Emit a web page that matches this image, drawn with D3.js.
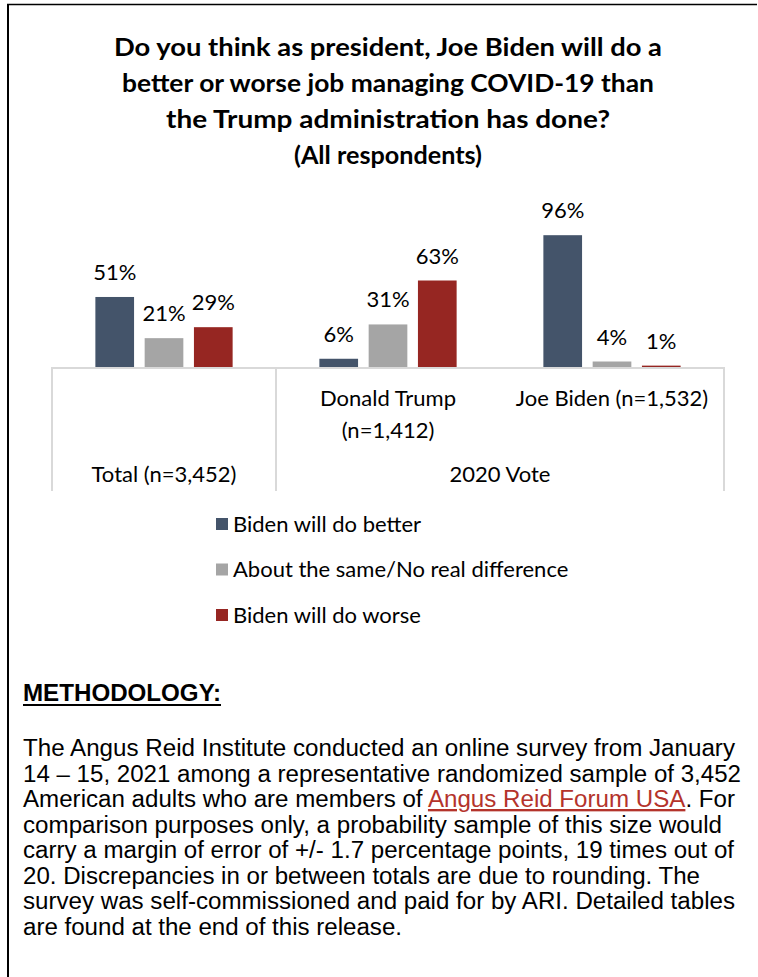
<!DOCTYPE html>
<html>
<head>
<meta charset="utf-8">
<script src="https://cdn.jsdelivr.net/npm/d3@7"></script>
<style>
  html, body { margin: 0; padding: 0; background: #fff; }
  svg { display: block; }
</style>
</head>
<body>
<svg id="chart" width="758" height="977"></svg>
<script>
// ---- data ----
const titleLines = [
  "Do you think as president, Joe Biden will do a",
  "better or worse job managing COVID-19 than",
  "the Trump administration has done?",
  "(All respondents)"
];
const titleWidths = [548, 532, 444, 188];
const categories = ["Total", "Donald Trump", "Joe Biden"];
const categoryLabels = [[], ["Donald Trump", "(n=1,412)"], ["Joe Biden (n=1,532)"]];
const groupLabels = ["Total (n=3,452)", "2020 Vote"];
const groupMembers = [["Total"], ["Donald Trump", "Joe Biden"]];
const seriesNames = ["Biden will do better", "About the same/No real difference", "Biden will do worse"];
const betterValues = [51, 6, 96];
const sameValues = [21, 31, 4];
const worseValues = [29, 63, 1];
const seriesColors = ["#44546a", "#a5a5a5", "#962622"];

const methodologyHeading = "METHODOLOGY:";
const methodologyLines = [
  [["The Angus Reid Institute conducted an online survey from January", false]],
  [["14 \u2013 15, 2021 among a representative randomized sample of 3,452", false]],
  [["American adults who are members of ", false], ["Angus Reid Forum USA", true], [". For", false]],
  [["comparison purposes only, a probability sample of this size would", false]],
  [["carry a margin of error of +/- 1.7 percentage points, 19 times out of", false]],
  [["20. Discrepancies in or between totals are due to rounding. The", false]],
  [["survey was self-commissioned and paid for by ARI. Detailed tables", false]],
  [["are found at the end of this release.", false]]
];
const methodologyWidths = [712, 718, 712, 699, 711, 677, 712, 379];

const seriesValues = [betterValues, sameValues, worseValues];

// ---- layout ----
const svg = d3.select("#chart");
const labelFont = "Lato, 'Open Sans', sans-serif";
const baseY = 367;
const left = 52, right = 724;

// page frame (left and top rules)
svg.append("line").attr("x1", 8).attr("x2", 8).attr("y1", 4).attr("y2", 977)
  .attr("stroke", "#000").attr("stroke-width", 2);
svg.append("line").attr("x1", 7).attr("x2", 757).attr("y1", 4.5).attr("y2", 4.5)
  .attr("stroke", "#000").attr("stroke-width", 1.5);

// title
svg.append("g").selectAll("text").data(titleLines).join("text")
  .attr("x", 388)
  .attr("y", (d, i) => 56 + i * 36)
  .attr("text-anchor", "middle")
  .attr("font-family", labelFont)
  .attr("font-weight", 700)
  .attr("font-size", 25)
  .attr("fill", "#000")
  .attr("textLength", (d, i) => titleWidths[i])
  .attr("lengthAdjust", "spacingAndGlyphs")
  .text(d => d);

// scales
const x0 = d3.scaleBand().domain(categories).range([left, right]).padding(0);
const x1 = d3.scaleBand().domain(d3.range(seriesNames.length))
  .range([0, x0.bandwidth()]).paddingInner(0.215).paddingOuter(0.88);
const y = d3.scaleLinear().domain([0, 100]).range([baseY, baseY - 137.3]);

const bars = [];
categories.forEach((c, ci) => {
  seriesValues.forEach((vals, si) => {
    bars.push({ cat: c, s: si, v: vals[ci] });
  });
});

const gBars = svg.append("g");
gBars.selectAll("rect").data(bars).join("rect")
  .attr("x", d => x0(d.cat) + x1(d.s))
  .attr("width", x1.bandwidth())
  .attr("y", d => y(d.v))
  .attr("height", d => y(0) - y(d.v))
  .attr("fill", d => seriesColors[d.s]);

gBars.selectAll("text").data(bars).join("text")
  .attr("x", d => x0(d.cat) + x1(d.s) + x1.bandwidth() / 2)
  .attr("y", d => y(d.v) - 17)
  .attr("text-anchor", "middle")
  .attr("font-family", labelFont)
  .attr("font-size", 22)
  .attr("fill", "#000")
  .text(d => d.v + "%");

// category table below the bars
const grid = svg.append("g").attr("stroke", "#d9d9d9").attr("stroke-width", 2);
grid.append("line").attr("x1", left).attr("x2", right).attr("y1", baseY + 1).attr("y2", baseY + 1);
const boundaries = [left, x0("Donald Trump"), right];
grid.selectAll("line.v").data(boundaries).join("line").attr("class", "v")
  .attr("x1", d => d).attr("x2", d => d)
  .attr("y1", baseY).attr("y2", 491);

const catText = svg.append("g")
  .attr("font-family", labelFont).attr("font-size", 22).attr("fill", "#000")
  .attr("text-anchor", "middle");
categories.forEach((c, ci) => {
  categoryLabels[ci].forEach((line, li) => {
    catText.append("text")
      .attr("x", x0(c) + x0.bandwidth() / 2)
      .attr("y", 406 + li * 32)
      .text(line);
  });
});
groupLabels.forEach((g, gi) => {
  const members = groupMembers[gi];
  const gx0 = x0(members[0]);
  const gx1 = x0(members[members.length - 1]) + x0.bandwidth();
  catText.append("text")
    .attr("x", (gx0 + gx1) / 2)
    .attr("y", 482)
    .text(g);
});

// legend
const legend = svg.append("g").selectAll("g").data(seriesNames).join("g")
  .attr("transform", (d, i) => `translate(216, ${524 + i * 45.5})`);
legend.append("rect").attr("x", 0).attr("y", -6).attr("width", 12).attr("height", 12)
  .attr("fill", (d, i) => seriesColors[i]);
legend.append("text").attr("x", 17).attr("y", 7.5)
  .attr("font-family", labelFont).attr("font-size", 22).attr("fill", "#000")
  .text(d => d);

// methodology note
const noteFont = "'Liberation Sans Narrow', 'Arial Narrow', 'Liberation Sans', Arial, sans-serif";
svg.append("text").attr("x", 23).attr("y", 701)
  .attr("font-family", noteFont).attr("font-weight", 700).attr("font-size", 23.5)
  .attr("fill", "#000").text(methodologyHeading)
  .attr("textLength", 198).attr("lengthAdjust", "spacingAndGlyphs");
svg.append("line").attr("x1", 23).attr("x2", 221).attr("y1", 705).attr("y2", 705)
  .attr("stroke", "#000").attr("stroke-width", 2);

const body = svg.append("g").attr("font-family", noteFont).attr("font-size", 23.5).attr("fill", "#000");
methodologyLines.forEach((parts, li) => {
  const t = body.append("text").attr("x", 23).attr("y", 756 + li * 25.5)
    .attr("textLength", methodologyWidths[li]).attr("lengthAdjust", "spacingAndGlyphs");
  parts.forEach(([str, link]) => {
    const ts = t.append("tspan").text(str);
    if (link) ts.attr("fill", "#b4332b").attr("text-decoration", "underline");
  });
});
</script>
</body>
</html>
